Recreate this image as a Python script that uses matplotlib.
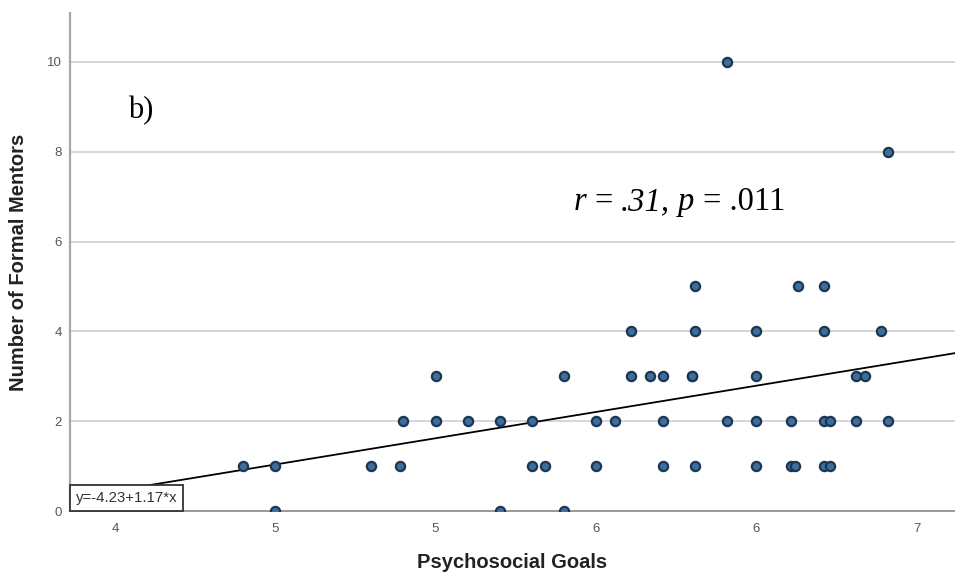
import numpy as np
import matplotlib
matplotlib.use("Agg")
import matplotlib.pyplot as plt

plt.rcParams["font.family"] = ["Liberation Sans", "DejaVu Sans"]

# psychosocial goals score / number of formal mentors
goals = [4.50, 5.20, 5.40,
         4.40, 4.50, 4.80, 4.89, 5.30, 5.34, 5.50, 5.71, 5.81, 6.00, 6.11, 6.12, 6.21, 6.23,
         4.90, 5.00, 5.10, 5.20, 5.30, 5.50, 5.56, 5.71, 5.91, 6.00, 6.11, 6.21, 6.23, 6.31, 6.41,
         5.00, 5.40, 5.61, 5.67, 5.71, 5.80, 5.80, 6.00, 6.31, 6.34,
         5.61, 5.81, 6.00, 6.21, 6.39,
         5.81, 6.13, 6.21,
         6.41,
         5.91]
mentors = [0, 0, 0,
           1, 1, 1, 1, 1, 1, 1, 1, 1, 1, 1, 1, 1, 1,
           2, 2, 2, 2, 2, 2, 2, 2, 2, 2, 2, 2, 2, 2, 2,
           3, 3, 3, 3, 3, 3, 3, 3, 3, 3,
           4, 4, 4, 4, 4,
           5, 5, 5,
           8,
           10]

intercept = -4.23
slope = 1.17

x_ticks = [4.0, 4.5, 5.0, 5.5, 6.0, 6.5]
x_tick_labels = ["4", "5", "5", "6", "6", "7"]
y_ticks = [0, 2, 4, 6, 8, 10]

# stats annotation: (text, italic?)
stat_parts = [("r", True), ("=", False), (".31,", True), ("p", True), ("= .011", False)]

fig = plt.figure(figsize=(9.55, 5.81), dpi=100)
ax = fig.add_axes([70 / 955, 70 / 581, 885 / 955, 498 / 581])

xlim = (3.86, 6.62)
ax.set_xlim(xlim)
ax.set_ylim(0, 11.09)

# regression line over the whole axis
xs = np.array(xlim)
ax.plot(xs, intercept + slope * xs, color="black", lw=1.3, zorder=3)

ax.scatter(goals, mentors, s=44, facecolor="#3d6f9e", edgecolor="#1c3651",
           linewidth=1.6, zorder=4)

for s in ["top", "right"]:
    ax.spines[s].set_visible(False)
ax.spines["left"].set_color("#a8a8a8")
ax.spines["left"].set_linewidth(1.6)
ax.spines["bottom"].set_color("#9a9a9a")
ax.spines["bottom"].set_linewidth(1.4)

ax.set_yticks(y_ticks)
ax.set_xticks(x_ticks)
ax.set_xticklabels(x_tick_labels)
ax.tick_params(axis="both", length=0, labelsize=9.5, labelcolor="#555555")
ax.tick_params(axis="y", pad=6)
ax.tick_params(axis="x", pad=9)
ax.grid(axis="y", color="#d6d6d6", lw=1.4)
ax.set_axisbelow(True)

ax.set_xlabel("Psychosocial Goals", fontsize=14.5, fontweight="bold", color="#222222")
ax.set_ylabel("Number of Formal Mentors", fontsize=14.5, fontweight="bold", color="#222222")
ax.xaxis.set_label_coords(0.5, -0.085)
ax.yaxis.set_label_coords(-0.048, 0.5)

ax.text(4.04, 8.75, "b)", family="Liberation Serif", fontsize=22, va="baseline")

# r / p text built piece by piece so the italics match
fig.canvas.draw()
renderer = fig.canvas.get_renderer()
stat_size = 23.5
space_pt = 0.25 * stat_size
offset = 0.0
for txt, ital in stat_parts:
    t = ax.annotate(txt, xy=(5.43, 6.70), xytext=(offset, 0), textcoords="offset points",
                    family="Liberation Serif", style="italic" if ital else "normal",
                    fontsize=stat_size, va="baseline", ha="left")
    w = t.get_window_extent(renderer).width * 72 / fig.dpi
    offset += w + space_pt

ax.text(0.0063, 0.0127, "y=-4.23+1.17*x", transform=ax.transAxes, fontsize=10.8,
        color="#333333", ha="left", va="bottom", zorder=5,
        bbox=dict(boxstyle="square,pad=0.4", fc="white", ec="#333333", lw=1.3))

fig.savefig("out.png", dpi=100)
